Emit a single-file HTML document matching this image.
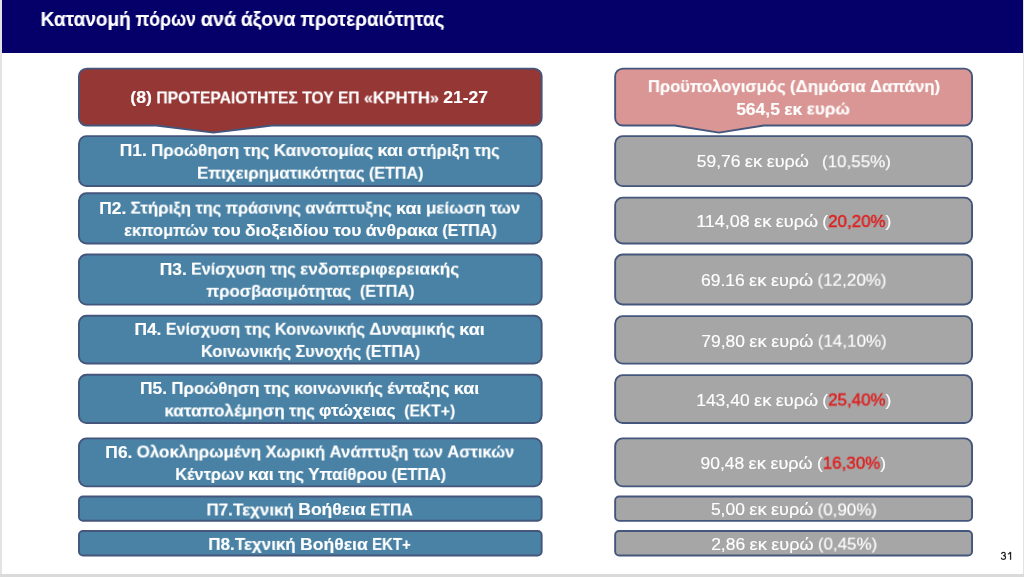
<!DOCTYPE html><html><head><meta charset="utf-8"><title>slide</title><style>

html,body{margin:0;padding:0;}
body{width:1024px;height:577px;overflow:hidden;background:#fff;position:relative;font-family:"Liberation Sans",sans-serif;}
#hdr{position:absolute;left:0;top:0;width:1024px;height:52.6px;background:#050069;}
#sl{position:absolute;left:0;top:0;width:2px;height:577px;background:#e3e3e5;}
#sr{position:absolute;left:1022.6px;top:0;width:1.4px;height:577px;background:#e2e2e6;}
#sb{position:absolute;left:0;top:574.3px;width:1024px;height:2.7px;background:#dadada;}
svg{position:absolute;left:0;top:0;}
.t{position:absolute;left:0;top:0;white-space:pre;line-height:1;transform-origin:0 0;display:block;will-change:transform;}
.t{-webkit-text-stroke:0.15px currentColor;}

</style></head><body>
<div id="hdr"></div>
<svg width="1024" height="577" viewBox="0 0 1024 577"><path d="M86.55,68.65 H534.05 A7.60,7.60 0 0 1 541.65,76.25 V117.95 A7.60,7.60 0 0 1 534.05,125.55 H271.74 L213.50,132.60 L156.07,125.55 H86.55 A7.60,7.60 0 0 1 78.95,117.95 V76.25 A7.60,7.60 0 0 1 86.55,68.65 Z" fill="#953735" stroke="#44567c" stroke-width="1.9" stroke-linejoin="round"/><path d="M622.75,68.65 H964.45 A7.60,7.60 0 0 1 972.05,76.25 V117.95 A7.60,7.60 0 0 1 964.45,125.55 H763.86 L719.00,132.60 L674.63,125.55 H622.75 A7.60,7.60 0 0 1 615.15,117.95 V76.25 A7.60,7.60 0 0 1 622.75,68.65 Z" fill="#d99694" stroke="#44567c" stroke-width="1.9" stroke-linejoin="round"/><rect x="78.95" y="136.15" width="462.70" height="49.90" rx="7.55" fill="#4a82a5" stroke="#44567c" stroke-width="1.9"/><rect x="78.95" y="193.25" width="462.70" height="50.20" rx="7.55" fill="#4a82a5" stroke="#44567c" stroke-width="1.9"/><rect x="78.95" y="254.55" width="462.70" height="50.10" rx="7.55" fill="#4a82a5" stroke="#44567c" stroke-width="1.9"/><rect x="78.95" y="315.75" width="462.70" height="47.70" rx="7.55" fill="#4a82a5" stroke="#44567c" stroke-width="1.9"/><rect x="78.95" y="374.75" width="462.70" height="48.30" rx="7.55" fill="#4a82a5" stroke="#44567c" stroke-width="1.9"/><rect x="78.95" y="438.35" width="462.70" height="48.00" rx="7.55" fill="#4a82a5" stroke="#44567c" stroke-width="1.9"/><rect x="78.95" y="496.45" width="462.70" height="24.30" rx="4.05" fill="#4a82a5" stroke="#44567c" stroke-width="1.9"/><rect x="78.95" y="530.95" width="462.70" height="24.60" rx="4.05" fill="#4a82a5" stroke="#44567c" stroke-width="1.9"/><rect x="615.15" y="136.15" width="356.90" height="50.00" rx="7.55" fill="#a6a6a6" stroke="#44567c" stroke-width="1.9"/><rect x="615.15" y="197.65" width="356.90" height="45.80" rx="7.55" fill="#a6a6a6" stroke="#44567c" stroke-width="1.9"/><rect x="615.15" y="254.55" width="356.90" height="49.90" rx="7.55" fill="#a6a6a6" stroke="#44567c" stroke-width="1.9"/><rect x="615.15" y="316.15" width="356.90" height="47.50" rx="7.55" fill="#a6a6a6" stroke="#44567c" stroke-width="1.9"/><rect x="615.15" y="375.15" width="356.90" height="47.90" rx="7.55" fill="#a6a6a6" stroke="#44567c" stroke-width="1.9"/><rect x="615.15" y="438.35" width="356.90" height="48.00" rx="7.55" fill="#a6a6a6" stroke="#44567c" stroke-width="1.9"/><rect x="615.15" y="496.45" width="356.90" height="24.40" rx="4.05" fill="#a6a6a6" stroke="#44567c" stroke-width="1.9"/><rect x="615.15" y="531.05" width="356.90" height="24.50" rx="4.05" fill="#a6a6a6" stroke="#44567c" stroke-width="1.9"/></svg>
<div class="t" style="font-size:20.0px;font-weight:bold;color:#fff;transform:translate(40.57px,9.00px) scaleX(0.9520)">Κατανομή</div>
<div class="t" style="font-size:20.0px;font-weight:bold;color:#fff;transform:translate(135.58px,9.00px) scaleX(0.8893)">πόρων</div>
<div class="t" style="font-size:20.0px;font-weight:bold;color:#fff;transform:translate(200.80px,9.00px) scaleX(0.9871)">ανά</div>
<div class="t" style="font-size:20.0px;font-weight:bold;color:#fff;transform:translate(240.87px,9.00px) scaleX(0.9670)">άξονα</div>
<div class="t" style="font-size:20.0px;font-weight:bold;color:#fff;transform:translate(300.42px,9.00px) scaleX(0.9478)">προτεραιότητας</div>
<div class="t" style="font-size:17.3px;font-weight:bold;color:#fff;transform:translate(130.33px,89.40px) scaleX(1.0265)">(8)</div>
<div class="t" style="font-size:17.3px;font-weight:bold;color:#fff;transform:translate(156.35px,89.40px) scaleX(0.9072)">ΠΡΟΤΕΡΑΙΟΤΗΤΕΣ</div>
<div class="t" style="font-size:17.3px;font-weight:bold;color:#fff;transform:translate(302.20px,89.40px) scaleX(0.9058)">ΤΟΥ</div>
<div class="t" style="font-size:17.3px;font-weight:bold;color:#fff;transform:translate(338.00px,89.40px) scaleX(0.8941)">ΕΠ</div>
<div class="t" style="font-size:17.3px;font-weight:bold;color:#fff;transform:translate(363.80px,89.40px) scaleX(0.9535)">«ΚΡΗΤΗ»</div>
<div class="t" style="font-size:17.3px;font-weight:bold;color:#fff;transform:translate(443.22px,89.40px) scaleX(1.0130)">21-27</div>
<div class="t" style="font-size:17.3px;font-weight:bold;color:#fff;transform:translate(119.76px,142.05px) scaleX(1.0023)">Π1.</div>
<div class="t" style="font-size:17.3px;font-weight:bold;color:#fff;transform:translate(151.05px,142.05px) scaleX(0.9729)">Προώθηση</div>
<div class="t" style="font-size:17.3px;font-weight:bold;color:#fff;transform:translate(243.53px,142.05px) scaleX(0.9457)">της</div>
<div class="t" style="font-size:17.3px;font-weight:bold;color:#fff;transform:translate(273.64px,142.05px) scaleX(0.9956)">Καινοτομίας</div>
<div class="t" style="font-size:17.3px;font-weight:bold;color:#fff;transform:translate(377.51px,142.05px) scaleX(1.0391)">και</div>
<div class="t" style="font-size:17.3px;font-weight:bold;color:#fff;transform:translate(407.29px,142.05px) scaleX(0.9735)">στήριξη</div>
<div class="t" style="font-size:17.3px;font-weight:bold;color:#fff;transform:translate(473.77px,142.05px) scaleX(0.9457)">της</div>
<div class="t" style="font-size:17.3px;font-weight:bold;color:#fff;transform:translate(197.02px,164.65px) scaleX(0.9758)">Επιχειρηματικότητας</div>
<div class="t" style="font-size:17.3px;font-weight:bold;color:#fff;transform:translate(368.91px,164.65px) scaleX(0.9316)">(ΕΤΠΑ)</div>
<div class="t" style="font-size:17.3px;font-weight:bold;color:#fff;transform:translate(99.28px,199.60px) scaleX(1.0023)">Π2.</div>
<div class="t" style="font-size:17.3px;font-weight:bold;color:#fff;transform:translate(130.58px,199.60px) scaleX(0.9740)">Στήριξη</div>
<div class="t" style="font-size:17.3px;font-weight:bold;color:#fff;transform:translate(195.39px,199.60px) scaleX(0.9457)">της</div>
<div class="t" style="font-size:17.3px;font-weight:bold;color:#fff;transform:translate(225.50px,199.60px) scaleX(0.9390)">πράσινης</div>
<div class="t" style="font-size:17.3px;font-weight:bold;color:#fff;transform:translate(305.26px,199.60px) scaleX(0.9710)">ανάπτυξης</div>
<div class="t" style="font-size:17.3px;font-weight:bold;color:#fff;transform:translate(396.11px,199.60px) scaleX(1.0391)">και</div>
<div class="t" style="font-size:17.3px;font-weight:bold;color:#fff;transform:translate(425.89px,199.60px) scaleX(0.9865)">μείωση</div>
<div class="t" style="font-size:17.3px;font-weight:bold;color:#fff;transform:translate(489.97px,199.60px) scaleX(0.9586)">των</div>
<div class="t" style="font-size:17.3px;font-weight:bold;color:#fff;transform:translate(124.13px,222.00px) scaleX(0.9460)">εκπομπών</div>
<div class="t" style="font-size:17.3px;font-weight:bold;color:#fff;transform:translate(212.36px,222.00px) scaleX(1.0131)">του</div>
<div class="t" style="font-size:17.3px;font-weight:bold;color:#fff;transform:translate(244.91px,222.00px) scaleX(1.0185)">διοξειδίου</div>
<div class="t" style="font-size:17.3px;font-weight:bold;color:#fff;transform:translate(333.20px,222.00px) scaleX(1.0131)">του</div>
<div class="t" style="font-size:17.3px;font-weight:bold;color:#fff;transform:translate(365.75px,222.00px) scaleX(1.0232)">άνθρακα</div>
<div class="t" style="font-size:17.3px;font-weight:bold;color:#fff;transform:translate(442.30px,222.00px) scaleX(0.9316)">(ΕΤΠΑ)</div>
<div class="t" style="font-size:17.3px;font-weight:bold;color:#fff;transform:translate(159.74px,260.60px) scaleX(1.0023)">Π3.</div>
<div class="t" style="font-size:17.3px;font-weight:bold;color:#fff;transform:translate(191.03px,260.60px) scaleX(0.9303)">Ενίσχυση</div>
<div class="t" style="font-size:17.3px;font-weight:bold;color:#fff;transform:translate(269.92px,260.60px) scaleX(0.9457)">της</div>
<div class="t" style="font-size:17.3px;font-weight:bold;color:#fff;transform:translate(300.04px,260.60px) scaleX(0.9995)">ενδοπεριφερειακής</div>
<div class="t" style="font-size:17.3px;font-weight:bold;color:#fff;transform:translate(206.30px,282.80px) scaleX(0.9670)">προσβασιμότητας</div>
<div class="t" style="font-size:17.3px;font-weight:bold;color:#fff;transform:translate(359.88px,282.80px) scaleX(0.9316)">(ΕΤΠΑ)</div>
<div class="t" style="font-size:17.3px;font-weight:bold;color:#fff;transform:translate(134.46px,320.75px) scaleX(1.0023)">Π4.</div>
<div class="t" style="font-size:17.3px;font-weight:bold;color:#fff;transform:translate(165.75px,320.75px) scaleX(0.9303)">Ενίσχυση</div>
<div class="t" style="font-size:17.3px;font-weight:bold;color:#fff;transform:translate(244.65px,320.75px) scaleX(0.9457)">της</div>
<div class="t" style="font-size:17.3px;font-weight:bold;color:#fff;transform:translate(274.76px,320.75px) scaleX(0.9467)">Κοινωνικής</div>
<div class="t" style="font-size:17.3px;font-weight:bold;color:#fff;transform:translate(369.26px,320.75px) scaleX(0.9824)">Δυναμικής</div>
<div class="t" style="font-size:17.3px;font-weight:bold;color:#fff;transform:translate(459.33px,320.75px) scaleX(1.0391)">και</div>
<div class="t" style="font-size:17.3px;font-weight:bold;color:#fff;transform:translate(200.91px,342.90px) scaleX(0.9467)">Κοινωνικής</div>
<div class="t" style="font-size:17.3px;font-weight:bold;color:#fff;transform:translate(295.41px,342.90px) scaleX(0.9470)">Συνοχής</div>
<div class="t" style="font-size:17.3px;font-weight:bold;color:#fff;transform:translate(365.53px,342.90px) scaleX(0.9316)">(ΕΤΠΑ)</div>
<div class="t" style="font-size:17.3px;font-weight:bold;color:#fff;transform:translate(140.02px,379.90px) scaleX(1.0023)">Π5.</div>
<div class="t" style="font-size:17.3px;font-weight:bold;color:#fff;transform:translate(171.31px,379.90px) scaleX(0.9729)">Προώθηση</div>
<div class="t" style="font-size:17.3px;font-weight:bold;color:#fff;transform:translate(263.79px,379.90px) scaleX(0.9457)">της</div>
<div class="t" style="font-size:17.3px;font-weight:bold;color:#fff;transform:translate(293.90px,379.90px) scaleX(0.9640)">κοινωνικής</div>
<div class="t" style="font-size:17.3px;font-weight:bold;color:#fff;transform:translate(387.14px,379.90px) scaleX(0.9967)">ένταξης</div>
<div class="t" style="font-size:17.3px;font-weight:bold;color:#fff;transform:translate(453.77px,379.90px) scaleX(1.0391)">και</div>
<div class="t" style="font-size:17.3px;font-weight:bold;color:#fff;transform:translate(164.34px,402.40px) scaleX(0.9882)">καταπολέμηση</div>
<div class="t" style="font-size:17.3px;font-weight:bold;color:#fff;transform:translate(289.00px,402.40px) scaleX(0.9457)">της</div>
<div class="t" style="font-size:17.3px;font-weight:bold;color:#fff;transform:translate(319.11px,402.40px) scaleX(1.0076)">φτώχειας</div>
<div class="t" style="font-size:17.3px;font-weight:bold;color:#fff;transform:translate(404.28px,402.40px) scaleX(0.9056)">(ΕΚΤ+)</div>
<div class="t" style="font-size:17.3px;font-weight:bold;color:#fff;transform:translate(105.37px,443.50px) scaleX(1.0023)">Π6.</div>
<div class="t" style="font-size:17.3px;font-weight:bold;color:#fff;transform:translate(136.67px,443.50px) scaleX(0.9800)">Ολοκληρωμένη</div>
<div class="t" style="font-size:17.3px;font-weight:bold;color:#fff;transform:translate(265.49px,443.50px) scaleX(0.9687)">Χωρική</div>
<div class="t" style="font-size:17.3px;font-weight:bold;color:#fff;transform:translate(329.48px,443.50px) scaleX(0.9714)">Ανάπτυξη</div>
<div class="t" style="font-size:17.3px;font-weight:bold;color:#fff;transform:translate(412.81px,443.50px) scaleX(0.9586)">των</div>
<div class="t" style="font-size:17.3px;font-weight:bold;color:#fff;transform:translate(447.29px,443.50px) scaleX(0.9542)">Αστικών</div>
<div class="t" style="font-size:17.3px;font-weight:bold;color:#fff;transform:translate(175.21px,466.00px) scaleX(0.9488)">Κέντρων</div>
<div class="t" style="font-size:17.3px;font-weight:bold;color:#fff;transform:translate(248.33px,466.00px) scaleX(1.0391)">και</div>
<div class="t" style="font-size:17.3px;font-weight:bold;color:#fff;transform:translate(278.11px,466.00px) scaleX(0.9457)">της</div>
<div class="t" style="font-size:17.3px;font-weight:bold;color:#fff;transform:translate(308.22px,466.00px) scaleX(0.9822)">Υπαίθρου</div>
<div class="t" style="font-size:17.3px;font-weight:bold;color:#fff;transform:translate(391.48px,466.00px) scaleX(0.9316)">(ΕΤΠΑ)</div>
<div class="t" style="font-size:17.3px;font-weight:bold;color:#fff;transform:translate(206.40px,501.45px) scaleX(0.9840)">Π7.Τεχνική</div>
<div class="t" style="font-size:17.3px;font-weight:bold;color:#fff;transform:translate(298.23px,501.45px) scaleX(1.0152)">Βοήθεια</div>
<div class="t" style="font-size:17.3px;font-weight:bold;color:#fff;transform:translate(370.14px,501.45px) scaleX(0.9054)">ΕΤΠΑ</div>
<div class="t" style="font-size:17.3px;font-weight:bold;color:#fff;transform:translate(208.25px,535.90px) scaleX(0.9840)">Π8.Τεχνική</div>
<div class="t" style="font-size:17.3px;font-weight:bold;color:#fff;transform:translate(300.09px,535.90px) scaleX(1.0152)">Βοήθεια</div>
<div class="t" style="font-size:17.3px;font-weight:bold;color:#fff;transform:translate(371.99px,535.90px) scaleX(0.8713)">ΕΚΤ+</div>
<div class="t" style="font-size:17.3px;font-weight:bold;color:#fff;transform:translate(647.84px,78.10px) scaleX(0.9604)">Προϋπολογισμός</div>
<div class="t" style="font-size:17.3px;font-weight:bold;color:#fff;transform:translate(789.89px,78.10px) scaleX(0.9827)">(Δημόσια</div>
<div class="t" style="font-size:17.3px;font-weight:bold;color:#fff;transform:translate(870.00px,78.10px) scaleX(0.9695)">Δαπάνη)</div>
<div class="t" style="font-size:17.3px;font-weight:bold;color:#fff;transform:translate(736.13px,100.50px) scaleX(1.0139)">564,5</div>
<div class="t" style="font-size:17.3px;font-weight:bold;color:#fff;transform:translate(784.32px,100.50px) scaleX(1.0084)">εκ</div>
<div class="t" style="font-size:17.3px;font-weight:bold;color:#fff;transform:translate(806.64px,100.50px) scaleX(0.9931)">ευρώ</div>
<div class="t" style="font-size:17.3px;font-weight:normal;color:#fff;transform:translate(696.84px,153.20px) scaleX(1.0102)">59,76</div>
<div class="t" style="font-size:17.3px;font-weight:normal;color:#fff;transform:translate(744.87px,153.20px) scaleX(1.0685)">εκ</div>
<div class="t" style="font-size:17.3px;font-weight:normal;color:#fff;transform:translate(766.67px,153.20px) scaleX(1.0439)">ευρώ</div>
<div class="t" style="font-size:17.3px;font-weight:normal;color:#fff;transform:translate(821.94px,153.20px) scaleX(0.9846)">(10,55%)</div>
<div class="t" style="font-size:17.3px;font-weight:normal;color:#fff;transform:translate(696.19px,212.95px) scaleX(1.0357)">114,08</div>
<div class="t" style="font-size:17.3px;font-weight:normal;color:#fff;transform:translate(753.94px,212.95px) scaleX(1.0685)">εκ</div>
<div class="t" style="font-size:17.3px;font-weight:normal;color:#fff;transform:translate(775.74px,212.95px) scaleX(1.0439)">ευρώ</div>
<div class="t" style="font-size:17.3px;font-weight:normal;color:#fff;transform:translate(822.34px,212.95px) scaleX(1.0110)">(</div>
<div class="t" style="font-size:17.3px;font-weight:normal;color:#de2020;-webkit-text-stroke:0.45px #de2020;transform:translate(828.15px,212.95px) scaleX(0.9794)">20,20%</div>
<div class="t" style="font-size:17.3px;font-weight:normal;color:#fff;transform:translate(885.56px,212.95px) scaleX(1.0110)">)</div>
<div class="t" style="font-size:17.3px;font-weight:normal;color:#fff;transform:translate(701.03px,271.65px) scaleX(1.0115)">69.16</div>
<div class="t" style="font-size:17.3px;font-weight:normal;color:#fff;transform:translate(749.11px,271.65px) scaleX(1.0685)">εκ</div>
<div class="t" style="font-size:17.3px;font-weight:normal;color:#fff;transform:translate(770.91px,271.65px) scaleX(1.0439)">ευρώ</div>
<div class="t" style="font-size:17.3px;font-weight:normal;color:#fff;transform:translate(817.50px,271.65px) scaleX(0.9846)">(12,20%)</div>
<div class="t" style="font-size:17.3px;font-weight:normal;color:#fff;transform:translate(701.31px,332.65px) scaleX(1.0102)">79,80</div>
<div class="t" style="font-size:17.3px;font-weight:normal;color:#fff;transform:translate(749.33px,332.65px) scaleX(1.0685)">εκ</div>
<div class="t" style="font-size:17.3px;font-weight:normal;color:#fff;transform:translate(771.13px,332.65px) scaleX(1.0439)">ευρώ</div>
<div class="t" style="font-size:17.3px;font-weight:normal;color:#fff;transform:translate(817.72px,332.65px) scaleX(0.9846)">(14,10%)</div>
<div class="t" style="font-size:17.3px;font-weight:normal;color:#fff;transform:translate(696.19px,391.50px) scaleX(1.0105)">143,40</div>
<div class="t" style="font-size:17.3px;font-weight:normal;color:#fff;transform:translate(753.94px,391.50px) scaleX(1.0685)">εκ</div>
<div class="t" style="font-size:17.3px;font-weight:normal;color:#fff;transform:translate(775.74px,391.50px) scaleX(1.0439)">ευρώ</div>
<div class="t" style="font-size:17.3px;font-weight:normal;color:#fff;transform:translate(822.34px,391.50px) scaleX(1.0110)">(</div>
<div class="t" style="font-size:17.3px;font-weight:normal;color:#de2020;-webkit-text-stroke:0.45px #de2020;transform:translate(828.15px,391.50px) scaleX(0.9794)">25,40%</div>
<div class="t" style="font-size:17.3px;font-weight:normal;color:#fff;transform:translate(885.56px,391.50px) scaleX(1.0110)">)</div>
<div class="t" style="font-size:17.3px;font-weight:normal;color:#fff;transform:translate(700.56px,454.70px) scaleX(1.0102)">90,48</div>
<div class="t" style="font-size:17.3px;font-weight:normal;color:#fff;transform:translate(748.58px,454.70px) scaleX(1.0685)">εκ</div>
<div class="t" style="font-size:17.3px;font-weight:normal;color:#fff;transform:translate(770.38px,454.70px) scaleX(1.0439)">ευρώ</div>
<div class="t" style="font-size:17.3px;font-weight:normal;color:#fff;transform:translate(816.97px,454.70px) scaleX(1.0110)">(</div>
<div class="t" style="font-size:17.3px;font-weight:normal;color:#de2020;-webkit-text-stroke:0.45px #de2020;transform:translate(822.79px,454.70px) scaleX(0.9794)">16,30%</div>
<div class="t" style="font-size:17.3px;font-weight:normal;color:#fff;transform:translate(880.19px,454.70px) scaleX(1.0110)">)</div>
<div class="t" style="font-size:17.3px;font-weight:normal;color:#fff;transform:translate(710.91px,501.40px) scaleX(1.0098)">5,00</div>
<div class="t" style="font-size:17.3px;font-weight:normal;color:#fff;transform:translate(749.21px,501.40px) scaleX(1.0685)">εκ</div>
<div class="t" style="font-size:17.3px;font-weight:normal;color:#fff;transform:translate(771.01px,501.40px) scaleX(1.0439)">ευρώ</div>
<div class="t" style="font-size:17.3px;font-weight:normal;color:#fff;transform:translate(817.60px,501.40px) scaleX(0.9802)">(0,90%)</div>
<div class="t" style="font-size:17.3px;font-weight:normal;color:#fff;transform:translate(711.16px,535.60px) scaleX(1.0098)">2,86</div>
<div class="t" style="font-size:17.3px;font-weight:normal;color:#fff;transform:translate(749.46px,535.60px) scaleX(1.0685)">εκ</div>
<div class="t" style="font-size:17.3px;font-weight:normal;color:#fff;transform:translate(771.26px,535.60px) scaleX(1.0439)">ευρώ</div>
<div class="t" style="font-size:17.3px;font-weight:normal;color:#fff;transform:translate(817.85px,535.60px) scaleX(0.9802)">(0,45%)</div>
<svg width="1024" height="577" viewBox="0 0 1024 577" fill="none" stroke="#222" stroke-width="1.15"><path d="M1001.5,554.1 C1001.7,552.8 1002.5,552.35 1003.45,552.35 C1004.6,552.35 1005.25,553 1005.25,553.95 C1005.25,555 1004.4,555.6 1003.1,555.6 C1004.6,555.6 1005.55,556.3 1005.55,557.45 C1005.55,558.65 1004.7,559.35 1003.45,559.35 C1002.2,559.35 1001.45,558.75 1001.25,557.55"/><path d="M1007.9,554.3 C1009,553.8 1009.9,553 1010.3,552"/><path d="M1010.55,551.9 V559.8" stroke-width="1.25"/></svg>
<div id="sl"></div><div id="sr"></div><div id="sb"></div>
</body></html>
